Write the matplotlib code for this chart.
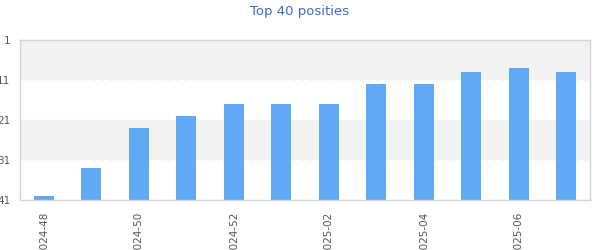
import matplotlib
matplotlib.use("Agg")
import matplotlib.pyplot as plt
import numpy as np

# Weekly chart positions (lower = better)
weeks = ["2024-48", "2024-49", "2024-50", "2024-51", "2024-52", "2025-01",
         "2025-02", "2025-03", "2025-04", "2025-05", "2025-06", "2025-07"]
positions = [40, 33, 23, 20, 17, 17, 17, 12, 12, 9, 8, 9]
y_ticks = [1, 11, 21, 31, 41]

plt.rcParams['font.family'] = ['DejaVu Sans']

fig = plt.figure(figsize=(6, 2.5), dpi=100)
ax = fig.add_axes([20 / 600, 50 / 250, 570 / 600, 160 / 250])

x = np.arange(len(weeks))

# Alternating bands
ax.axhspan(1, 11, color="#f2f2f2", zorder=0)
ax.axhspan(21, 31, color="#f2f2f2", zorder=0)
for yl in [11, 31]:
    ax.axhline(yl, color="white", lw=1, ls=(0, (4, 2)), zorder=1)

ax.bar(x, [41 - p for p in positions], bottom=positions, width=0.42,
       color="#60a9f4", zorder=2)

ax.set_xlim(-0.5, len(weeks) - 0.5)
ax.set_ylim(41, 1)
ax.set_yticks(y_ticks)
ax.set_yticklabels([str(t) for t in y_ticks])
ax.set_xticks(x[::2])
ax.set_xticklabels(weeks[::2], rotation=90)

ax.tick_params(axis="both", length=0, labelsize=7.5, colors="#555555")
ax.tick_params(axis="y", pad=7)
ax.tick_params(axis="x", pad=8.5)

for s in ax.spines.values():
    s.set_color("#d4d4d4")
    s.set_linewidth(1)

fig.text(0.5, 1 - 11 / 250, "Top 40 posities", ha="center", va="center",
         fontsize=9.5, color="#3b6cc4")

fig.savefig("out.png", dpi=100)
